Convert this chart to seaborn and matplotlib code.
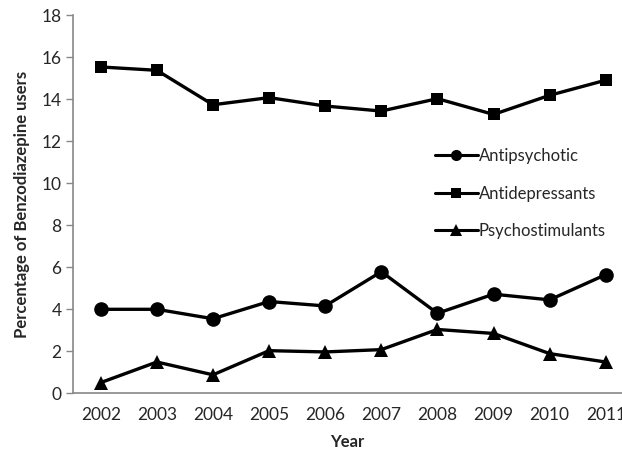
import pandas as pd
import matplotlib
matplotlib.use("Agg")
import matplotlib.pyplot as plt
import seaborn as sns

years = ["2002", "2003", "2004", "2005", "2006", "2007", "2008", "2009", "2010", "2011"]
antipsychotic = [4.0, 4.0, 3.55, 4.37, 4.16, 5.79, 3.81, 4.72, 4.45, 5.65]
antidepressants = [15.54, 15.38, 13.74, 14.08, 13.68, 13.44, 14.03, 13.28, 14.19, 14.91]
psychostimulants = [0.51, 1.49, 0.88, 2.03, 1.97, 2.08, 3.04, 2.85, 1.89, 1.49]
series_names = ["Antipsychotic", "Antidepressants", "Psychostimulants"]

df = pd.DataFrame({
    "pos": list(range(len(years))) * 3,
    "value": antipsychotic + antidepressants + psychostimulants,
    "series": [s for s in series_names for _ in years],
})

sns.set_style("white")
plt.rcParams["font.family"] = ["Lato", "DejaVu Sans"]

fig = plt.figure(figsize=(6.22, 4.58), dpi=100)
# plot area runs past the right edge, like the cropped original
ax = fig.add_axes([72.7 / 622, 64.7 / 458, 1 - 72.7 / 622, 378 / 458])

sns.lineplot(data=df, x="pos", y="value", style="series", hue="series",
             palette=["black"] * 3, markers=["o", "s", "^"], dashes=False,
             linewidth=2.4, markeredgewidth=0, ax=ax)
for line, ms in zip(ax.lines, [10.5, 9, 10]):
    line.set_markersize(ms)
    line.set_clip_on(False)

ax.set_xlim(-0.5, 9.29)
ax.set_ylim(0, 18)
ax.set_yticks(range(0, 19, 2))
ax.set_xticks(range(len(years)))
ax.set_xticklabels(years)
ax.set_xticks([i - 0.5 for i in range(len(years))], minor=True)
ax.tick_params(axis="x", which="major", length=0, pad=10, labelsize=12.5)
ax.tick_params(axis="x", which="minor", length=5, width=1, color="#888888", direction="out")
ax.tick_params(axis="y", length=5, width=1, color="#888888", direction="out", labelsize=12.5, pad=3)
ax.tick_params(axis="both", bottom=True, left=True)

for side in ["top", "right"]:
    ax.spines[side].set_visible(False)
for side in ["left", "bottom"]:
    ax.spines[side].set_color("#888888")
    ax.spines[side].set_linewidth(1.2)

ax.set_xlabel("Year", fontsize=12, fontweight="bold", labelpad=8)
ax.set_ylabel("Percentage of Benzodiazepine users", fontsize=12, fontweight="bold", labelpad=8)

handles, labels = ax.get_legend_handles_labels()
leg = ax.legend(handles, labels, loc="upper left", bbox_to_anchor=(0.647, 0.667),
                frameon=False, fontsize=12, labelspacing=1.3, handlelength=2.6,
                handletextpad=0.05, borderaxespad=0)
for h, ms in zip(leg.legend_handles, [8, 7, 8]):
    h.set_markersize(ms)
    h.set_markeredgewidth(0)
    h.set_linewidth(2.2)

fig.savefig("out.png", dpi=100)
